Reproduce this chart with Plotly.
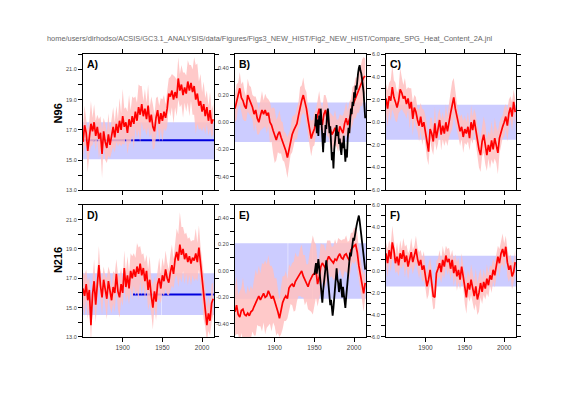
import plotly.graph_objects as go

# ---------------- data ----------------
years = list(range(1850, 2015, 2))  # 1850..2014, 83 values

a_mean = [16.2, 17.3, 16.8, 15.6, 16.5, 17.4, 16.9, 17.5, 16.6, 17.2,
          16.4, 16.8, 15.4, 16.9, 16.2, 15.8, 16.7, 16.0, 16.6, 17.2,
          16.5, 17.4, 16.8, 17.6, 17.0, 17.9, 17.2, 17.5, 16.8, 17.7,
          17.2, 17.9, 17.4, 18.2, 17.6, 18.5, 18.0, 18.7, 17.9, 18.4,
          17.7, 18.6, 17.5, 18.0, 17.2, 16.9, 17.8, 18.3, 17.4, 18.1,
          17.6, 18.2, 17.8, 18.4, 19.4, 19.2, 19.6, 19.0, 19.5, 19.1,
          20.4, 19.6, 20.0, 19.3, 19.8, 19.4, 20.2, 19.6, 20.1, 19.5,
          19.9, 19.0, 19.4, 18.6, 18.9, 18.2, 18.7, 17.9, 18.5, 17.6,
          18.3, 17.4, 17.7]
a_spread = [1.0, 1.3, 0.9, 1.4, 1.1, 1.5, 0.9, 1.2, 1.0, 0.8,
            1.3, 1.1, 1.6, 0.9, 1.2, 1.0, 1.4, 0.9, 1.1, 1.3,
            1.0, 1.2, 0.9, 1.5, 1.1, 1.8, 1.2, 1.0, 1.4, 1.6,
            1.1, 1.3, 1.7, 1.0, 1.2, 1.5, 1.9, 1.2, 1.0, 1.3,
            1.1, 1.4, 1.0, 1.2, 1.5, 1.1, 1.3, 0.9, 1.2, 1.0,
            1.4, 1.1, 0.9, 1.2, 1.0, 1.3, 1.1, 1.6, 1.0, 1.2,
            1.4, 1.1, 1.3, 1.5, 1.0, 1.2, 1.4, 1.7, 1.2, 1.5,
            1.9, 2.3, 2.0, 1.6, 1.8, 1.3, 1.5, 1.2, 1.1, 1.0,
            1.2, 0.9, 1.0]

d_mean = [16.3, 15.8, 16.6, 15.5, 16.2, 13.8, 15.9, 16.8, 15.2, 16.4,
          17.9, 16.5, 15.7, 16.9, 16.1, 15.6, 16.8, 16.2, 15.5, 16.4,
          16.0, 17.3, 16.1, 15.7, 16.6, 16.0, 17.7, 16.4, 17.2, 16.3,
          17.5, 17.0, 17.6, 17.1, 17.8, 17.3, 18.0, 17.2, 17.7, 16.8,
          17.5, 16.2, 16.9, 15.8, 15.0, 16.1, 15.4, 16.6, 17.0, 16.3,
          17.2, 16.8, 17.6, 17.0, 16.7, 17.4, 17.9, 17.3, 18.3, 18.8,
          18.2, 19.3, 18.6, 19.0, 18.3, 18.7, 18.1, 18.5, 18.0, 18.4,
          18.2, 18.7, 18.1, 19.1, 18.0, 16.9, 15.8, 15.0, 13.8, 14.6,
          14.1, 15.3, 15.6]
d_spread = [1.1, 1.4, 1.0, 1.3, 0.9, 1.2, 1.0, 1.5, 1.2, 0.9,
            1.3, 1.0, 1.2, 0.9, 1.1, 1.4, 1.0, 1.2, 0.9, 1.1,
            1.3, 1.0, 1.2, 1.4, 1.1, 0.9, 1.2, 1.0, 1.3, 1.1,
            1.2, 1.5, 1.1, 1.3, 1.6, 1.8, 1.2, 1.4, 1.0, 1.3,
            1.1, 1.4, 1.6, 1.2, 1.5, 1.0, 1.3, 1.1, 1.4, 1.0,
            1.2, 1.0, 1.3, 1.1, 0.9, 1.2, 1.4, 1.0, 1.3, 1.6,
            1.8, 2.2, 1.9, 1.5, 1.7, 1.4, 1.6, 1.3, 1.5, 1.2,
            1.4, 1.7, 1.3, 1.5, 1.2, 1.4, 1.6, 1.3, 1.1, 1.2,
            1.0, 1.3, 1.1]

b_mean = [0.10, 0.15, 0.20, 0.25, 0.18, 0.16, 0.12, 0.10, 0.20, 0.17,
          0.15, 0.11, 0.06, 0.09, 0.03, 0.00, 0.05, 0.09, 0.06, 0.09,
          0.05, 0.07, 0.00, -0.02, -0.06, -0.10, -0.13, -0.09, -0.07, -0.11,
          -0.14, -0.18, -0.21, -0.26, -0.20, -0.14, -0.09, -0.06, -0.03, -0.01,
          0.05, 0.12, 0.16, 0.20, 0.15, 0.10, 0.02, -0.05, -0.12, -0.08,
          -0.05, 0.00, 0.05, 0.10, 0.04, -0.02, 0.06, 0.09, 0.03, -0.01,
          -0.05, -0.09, -0.07, -0.04, -0.08, -0.10, -0.03, -0.06, -0.08, -0.01,
          0.03, -0.02, 0.02, 0.06, 0.12, 0.15, 0.18, 0.20, 0.23, 0.26,
          0.29, 0.33, 0.34]
b_spread = [0.10, 0.13, 0.09, 0.12, 0.10, 0.14, 0.11, 0.09, 0.12, 0.10,
            0.11, 0.09, 0.13, 0.10, 0.12, 0.09, 0.11, 0.14, 0.10, 0.12,
            0.13, 0.10, 0.15, 0.12, 0.17, 0.20, 0.15, 0.13, 0.16, 0.12,
            0.14, 0.11, 0.13, 0.15, 0.12, 0.10, 0.13, 0.11, 0.09, 0.12,
            0.10, 0.14, 0.11, 0.13, 0.10, 0.12, 0.09, 0.11, 0.13, 0.10,
            0.12, 0.09, 0.11, 0.13, 0.10, 0.12, 0.14, 0.11, 0.13, 0.10,
            0.12, 0.14, 0.11, 0.13, 0.10, 0.12, 0.09, 0.11, 0.13, 0.10,
            0.12, 0.10, 0.13, 0.11, 0.14, 0.12, 0.15, 0.13, 0.16, 0.14,
            0.17, 0.15, 0.13]

e_mean = [-0.31, -0.26, -0.33, -0.35, -0.30, -0.29, -0.33, -0.34, -0.32, -0.34,
          -0.31, -0.30, -0.27, -0.24, -0.22, -0.19, -0.22, -0.20, -0.17, -0.20,
          -0.19, -0.15, -0.18, -0.21, -0.19, -0.24, -0.27, -0.31, -0.36, -0.30,
          -0.24, -0.21, -0.19, -0.21, -0.13, -0.11, -0.10, -0.12, -0.08, -0.06,
          -0.04, -0.01, 0.00, -0.04, -0.07, -0.09, -0.12, -0.08, -0.05, -0.03,
          -0.02, 0.00, -0.10, -0.05, 0.03, 0.06, 0.04, 0.02, 0.08, 0.11,
          0.09, 0.07, 0.06, 0.09, 0.08, 0.11, 0.13, 0.10, 0.09, 0.12,
          0.13, 0.10, 0.08, 0.16, 0.18, 0.19, 0.20, 0.14, 0.04, -0.03,
          -0.10, -0.17, -0.09]
e_spread = [0.18, 0.22, 0.15, 0.20, 0.17, 0.24, 0.19, 0.16, 0.21, 0.18,
            0.20, 0.16, 0.22, 0.25, 0.19, 0.23, 0.20, 0.26, 0.22, 0.28,
            0.24, 0.27, 0.22, 0.25, 0.20, 0.18, 0.22, 0.16, 0.14, 0.18,
            0.20, 0.17, 0.19, 0.15, 0.18, 0.14, 0.16, 0.19, 0.22, 0.17,
            0.15, 0.18, 0.20, 0.16, 0.19, 0.14, 0.17, 0.22, 0.26, 0.30,
            0.24, 0.20, 0.17, 0.15, 0.18, 0.14, 0.16, 0.13, 0.15, 0.12,
            0.14, 0.11, 0.13, 0.15, 0.12, 0.14, 0.11, 0.13, 0.15, 0.12,
            0.14, 0.12, 0.15, 0.13, 0.11, 0.14, 0.12, 0.15, 0.13, 0.11,
            0.12, 0.14, 0.11]

c_mean = [2.1, 1.2, 2.3, 1.9, 3.1, 2.2, 1.8, 1.3, 1.9, 2.9,
          2.6, 2.1, 2.3, 1.6, 2.1, 1.2, 1.8, 0.3, 1.3, 0.9,
          0.2, -0.3, 0.5, -0.4, 0.0, -0.7, -1.7, -2.6, -0.6, -1.0,
          -1.7, -0.1, -1.4, -0.6, 0.2, -1.1, -0.3, -1.0, 0.0, -0.8,
          0.2, 0.8, 1.5, 2.2, 1.2, 0.5, -0.3, -0.8, -0.4, -1.3,
          -0.6, -1.0, -0.4, -1.4, 0.0, -0.7, 0.2, -0.6, -1.7, -2.4,
          -2.9, -1.7, -1.1, -1.9, -2.9, -2.0, -2.6, -1.6, -2.4, -1.4,
          -2.0, -2.7, -1.4, -0.8, -0.4, 0.0, 0.5, -0.3, 0.8, 1.3,
          0.5, 1.8, 0.9]
c_spread = [1.3, 1.6, 1.2, 1.8, 2.0, 1.5, 1.7, 1.3, 1.1, 1.9,
            1.4, 1.2, 1.6, 1.3, 1.0, 1.8, 1.2, 1.5, 1.1, 1.3,
            1.0, 1.4, 1.2, 1.6, 1.1, 1.3, 1.5, 1.2, 1.0, 1.4,
            1.2, 1.5, 1.1, 1.3, 1.0, 1.4, 1.2, 1.1, 1.6, 1.3,
            1.5, 1.8, 2.1, 1.7, 1.4, 1.2, 1.0, 1.3, 1.1, 1.4,
            1.2, 1.0, 1.3, 1.1, 1.5, 1.2, 1.0, 1.3, 1.4, 1.6,
            1.5, 1.3, 1.6, 1.8, 1.4, 1.2, 1.5, 1.7, 1.3, 1.8,
            1.6, 1.9, 1.4, 1.2, 1.0, 1.3, 1.1, 1.4, 1.2, 1.0,
            1.3, 1.1, 1.2]

f_mean = [1.6, 0.7, 1.9, 1.1, 2.6, 1.9, 0.7, 1.3, 0.5, 1.6,
          1.1, 1.9, 0.8, 1.4, 0.4, 1.0, 1.7, 0.8, 1.3, 2.0,
          1.1, 0.5, 1.0, 0.1, 0.5, -0.5, -1.4, -0.8, 0.1, -1.1,
          -2.3, -2.4, -0.2, 0.2, 0.7, -0.1, 1.0, 0.4, 1.4, 0.8,
          1.1, 0.2, 1.0, -0.2, 0.5, -0.5, 0.1, -0.8, 0.4, -0.5,
          -1.7, -2.4, -1.1, -1.7, -0.8, -1.6, -2.3, -1.4, -2.6, -2.0,
          -1.1, -1.9, -1.0, -1.6, -0.7, -1.3, -0.4, -0.8, 0.1, -0.4,
          0.5, 1.3, 0.7, 1.6, 2.0, 1.3, 2.2, 0.8, 0.1, 0.5,
          -0.5, -0.1, 0.8]
f_spread = [1.0, 1.3, 0.9, 1.2, 1.5, 1.1, 0.9, 1.3, 1.0, 1.2,
            0.9, 1.1, 1.4, 1.0, 1.2, 0.9, 1.3, 1.1, 1.0, 1.2,
            1.0, 1.2, 0.9, 1.1, 1.3, 1.0, 1.2, 1.4, 1.1, 1.3,
            1.2, 1.0, 1.1, 0.9, 1.2, 1.0, 1.3, 1.1, 0.9, 1.2,
            1.0, 1.1, 0.9, 1.2, 1.0, 1.3, 1.1, 0.9, 1.2, 1.0,
            1.3, 1.5, 1.2, 1.1, 1.4, 1.2, 1.3, 1.6, 1.4, 1.7,
            1.3, 1.1, 1.2, 1.0, 1.3, 1.1, 0.9, 1.2, 1.0, 1.1,
            1.2, 1.0, 1.3, 1.1, 1.4, 1.2, 1.0, 1.3, 1.1, 1.0,
            1.2, 1.0, 1.1]

# observations (black lines)
b_obs_years = list(range(1951, 2015))
b_obs = [-0.03, 0.06, -0.08, 0.02, -0.10, 0.05, -0.02, 0.10, 0.00, -0.12,
         -0.22, -0.08, -0.15, -0.02, -0.05, 0.06, 0.10, 0.02, -0.08, -0.03,
         -0.19, -0.28, -0.22, -0.34, -0.20, -0.14, -0.05, -0.02, -0.10, -0.07,
         -0.16, -0.12, -0.20, -0.24, -0.15, -0.19, -0.10, -0.22, -0.29, -0.20,
         -0.26, -0.12, -0.04, -0.08, 0.03, 0.10, 0.06, 0.15, 0.12, 0.22,
         0.18, 0.27, 0.24, 0.32, 0.36, 0.40, 0.42, 0.38, 0.36, 0.32,
         0.28, 0.22, 0.12, 0.03]
e_obs_years = list(range(1950, 2015))
e_obs = [-0.03, 0.02, 0.06, -0.02, 0.05, 0.09, 0.03, -0.05, -0.12, -0.18,
         -0.24, -0.15, -0.08, -0.02, 0.05, 0.08, 0.02, -0.06, -0.12, -0.18,
         -0.26, -0.22, -0.30, -0.34, -0.28, -0.19, -0.10, -0.01, 0.02, -0.06,
         -0.09, -0.16, -0.10, -0.06, -0.14, -0.20, -0.12, -0.18, -0.22, -0.28,
         -0.20, -0.14, -0.05, 0.03, 0.09, 0.14, 0.11, 0.17, 0.21, 0.25,
         0.23, 0.28, 0.31, 0.34, 0.37, 0.40, 0.42, 0.38, 0.33, 0.28,
         0.24, 0.18, 0.12, 0.06, 0.01]

# control-run range (blue bands) : [low, high] and year segments
band_a = [15.05, 17.5]
band_b = [-0.145, 0.145]
band_c = [-1.55, 1.55]
band_d = [14.5, 17.35]
band_e = [-0.21, 0.21]
band_f = [-1.42, 1.37]
seg_full = [[1850, 2015]]
seg_d = [[1850, 1948.4], [1949.0, 2015]]
seg_e = [[1850, 1916.4], [1917.0, 1947.6], [1948.2, 2015]]

# control mean (blue lines): value and year span
ctl_a = 16.3
ctl_a_span = [1850, 2015]
ctl_d = 15.9
ctl_d_span = [1913, 2015]

for arr in (a_mean, a_spread, d_mean, d_spread, b_mean, b_spread, e_mean,
            e_spread, c_mean, c_spread, f_mean, f_spread):
    assert len(arr) == len(years), len(arr)
assert len(b_obs) == len(b_obs_years) and len(e_obs) == len(e_obs_years)

# ---------------- figure ----------------
OFF = 8            # page body margin of the browser
W, H = 561 - OFF, 397 - OFF
FONT = "Liberation Sans"
PINK = "rgba(255,192,192,0.85)"
BLUEBAND = "rgb(204,204,255)"

fig = go.Figure()

panels = [
    ("A", "x", "y", a_mean, a_spread, band_a, seg_full, None, (ctl_a, ctl_a_span)),
    ("B", "x2", "y2", b_mean, b_spread, band_b, seg_full, (b_obs_years, b_obs), None),
    ("C", "x3", "y3", c_mean, c_spread, band_c, seg_full, None, None),
    ("D", "x4", "y4", d_mean, d_spread, band_d, seg_d, None, (ctl_d, ctl_d_span)),
    ("E", "x5", "y5", e_mean, e_spread, band_e, seg_e, (e_obs_years, e_obs), None),
    ("F", "x6", "y6", f_mean, f_spread, band_f, seg_full, None, None),
]

for name, xa, ya, mean, spread, band, segs, obs, ctl in panels:
    bx, by = [], []
    for s0, s1 in segs:
        bx += [s0, s1, s1, s0, s0, None]
        by += [band[0], band[0], band[1], band[1], band[0], None]
    fig.add_trace(go.Scatter(x=bx, y=by, fill="toself", fillcolor=BLUEBAND,
                             line=dict(width=0), mode="lines", xaxis=xa, yaxis=ya,
                             hoverinfo="skip", showlegend=False))
    if ctl is not None:
        fig.add_trace(go.Scatter(x=ctl[1], y=[ctl[0], ctl[0]], mode="lines",
                                 line=dict(color="#0000dd", width=2),
                                 xaxis=xa, yaxis=ya, showlegend=False))
    hi = [m + s for m, s in zip(mean, spread)]
    lo = [m - s for m, s in zip(mean, spread)]
    fig.add_trace(go.Scatter(x=years + years[::-1], y=hi + lo[::-1], fill="toself",
                             fillcolor=PINK, line=dict(width=0), mode="lines",
                             xaxis=xa, yaxis=ya, hoverinfo="skip", showlegend=False))
    fig.add_trace(go.Scatter(x=years, y=mean, mode="lines",
                             line=dict(color="#ff0000", width=1.7),
                             xaxis=xa, yaxis=ya, showlegend=False))
    if obs is not None:
        fig.add_trace(go.Scatter(x=obs[0], y=obs[1], mode="lines",
                                 line=dict(color="black", width=1.8),
                                 xaxis=xa, yaxis=ya, showlegend=False))

# domains (screen pixel -> paper)
def px(x):
    return (x - OFF) / W

def py(y):
    return 1 - (y - OFF) / H

xdom = [[px(83), px(214)], [px(235), px(366)], [px(386), px(516)]]
ydom_top = [py(190), py(52)]
ydom_bot = [py(339), py(205)]

tickfont = dict(family=FONT, size=5.5, color="#444")
common_x = dict(range=[1850, 2015], tickvals=[1900, 1950, 2000], ticks="outside",
                ticklen=4, tickwidth=1, tickcolor="black", showline=True,
                linecolor="black", linewidth=1.3, mirror="ticks", showgrid=False,
                zeroline=False, tickfont=dict(family=FONT, size=6.5, color="#444"))

yvals_a = list(range(13, 23))
ytext_a = ["13.0", "", "15.0", "", "17.0", "", "19.0", "", "21.0", ""]
yvals_b = [-0.5, -0.4, -0.3, -0.2, -0.1, 0.0, 0.1, 0.2, 0.3, 0.4, 0.5]
ytext_b = ["", "-0.40", "", "-0.20", "", "0.00", "", "0.20", "", "0.40", ""]
yvals_c = list(range(-6, 7))
ytext_c = ["-6.0", "", "-4.0", "", "-2.0", "", "0.0", "", "2.0", "", "4.0", "", "6.0"]

def yax(rng, vals, text, dom, anchor, mirror="ticks"):
    return dict(range=rng, tickvals=vals, ticktext=text, domain=dom, anchor=anchor,
                ticks="outside", ticklen=4, tickwidth=1, tickcolor="black",
                showline=True, linecolor="black", linewidth=1.3, mirror=mirror,
                showgrid=False, zeroline=False, tickfont=tickfont)

layout = dict(width=W, height=H, margin=dict(l=0, r=0, t=0, b=0),
              paper_bgcolor="white", plot_bgcolor="white", showlegend=False)

for i in range(6):
    row = 0 if i < 3 else 1
    col = i % 3
    xname = "xaxis" if i == 0 else f"xaxis{i+1}"
    yid = "y" if i == 0 else f"y{i+1}"
    layout[xname] = dict(common_x, domain=xdom[col], anchor=yid,
                         showticklabels=(row == 1))

layout["yaxis"] = yax([13, 22], yvals_a, ytext_a, ydom_top, "x")
layout["yaxis2"] = yax([-0.5, 0.5], yvals_b, ytext_b, ydom_top, "x2", mirror=True)
layout["yaxis3"] = yax([-6, 6], yvals_c, ytext_c, ydom_top, "x3")
layout["yaxis4"] = yax([13, 22], yvals_a, ytext_a, ydom_bot, "x4")
layout["yaxis5"] = yax([-0.5, 0.5], yvals_b, ytext_b, ydom_bot, "x5", mirror=True)
layout["yaxis6"] = yax([-6, 6], yvals_c, ytext_c, ydom_bot, "x6")
for k, ov in ((7, "y2"), (8, "y5")):
    layout[f"yaxis{k}"] = dict(range=[-6, 6], tickvals=yvals_c, showticklabels=False,
                               overlaying=ov, side="right",
                               anchor="x2" if ov == "y2" else "x5",
                               ticks="outside", ticklen=4, tickwidth=1,
                               tickcolor="black", showline=False, showgrid=False,
                               zeroline=False)

fig.update_layout(**layout)
fig.add_trace(go.Scatter(x=[None], y=[None], xaxis="x2", yaxis="y7", showlegend=False))
fig.add_trace(go.Scatter(x=[None], y=[None], xaxis="x5", yaxis="y8", showlegend=False))

annots = []
title = ("home/users/dirhodso/ACSIS/GC3.1_ANALYSIS/data/Figures/Figs3_NEW_HIST/"
         "Fig2_NEW_HIST/Compare_SPG_Heat_Content_2A.jnl")
annots.append(dict(text=title, x=px(45), y=py(36), xref="paper", yref="paper",
                   xanchor="left", yanchor="middle", showarrow=False,
                   font=dict(family=FONT, size=7.4, color="#666")))
for lab, yc in (("N96", 112), ("N216", 261)):
    annots.append(dict(text=f"<b>{lab}</b>", x=px(58), y=py(yc), xref="paper",
                       yref="paper", xanchor="center", yanchor="middle",
                       textangle=-90, showarrow=False,
                       font=dict(family=FONT, size=11, color="black")))
lefts = [83, 235, 386]
for i, name in enumerate("ABCDEF"):
    row = 0 if i < 3 else 1
    col = i % 3
    top = 52 if row == 0 else 205
    annots.append(dict(text=f"<b>{name})</b>", x=px(lefts[col] + 2), y=py(top + 2),
                       xref="paper", yref="paper", xanchor="left", yanchor="top",
                       showarrow=False,
                       font=dict(family=FONT, size=10.5, color="black")))
fig.update_layout(annotations=annots)

fig.write_html("out.html")
